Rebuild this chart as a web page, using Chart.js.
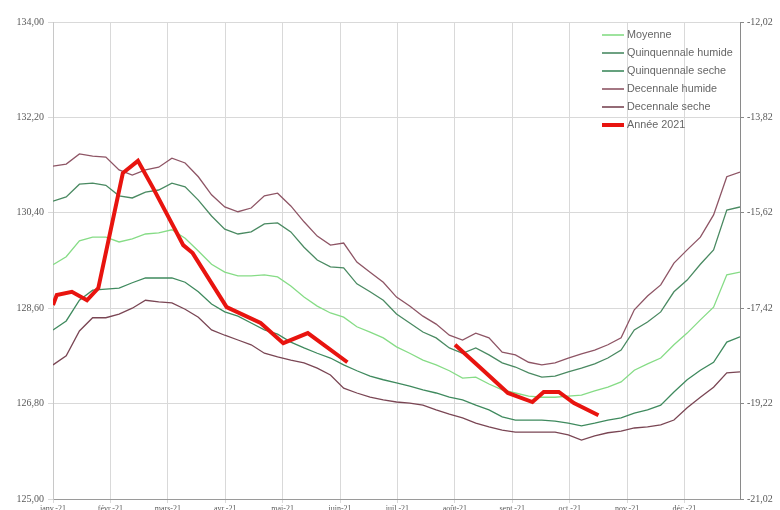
<!DOCTYPE html>
<html>
<head>
<meta charset="utf-8">
<script src="https://cdn.jsdelivr.net/npm/chart.js@4/dist/chart.umd.min.js"></script>
<style>
  html, body { margin: 0; padding: 0; background: #fff; overflow: hidden; }
  #wrap { width: 780px; height: 520px; }
</style>
</head>
<body>
<div id="wrap"><canvas id="myChart" width="780" height="520"></canvas></div>
<script>
// mois affichés sur l'axe du bas
const moisLabels = ['janv.-21', 'févr.-21', 'mars-21', 'avr.-21', 'mai-21', 'juin-21',
                    'juil.-21', 'août-21', 'sept.-21', 'oct.-21', 'nov.-21', 'déc.-21'];

// graduations des deux axes verticaux
const gaucheTicks = [125.00, 126.80, 128.60, 130.40, 132.20, 134.00];
const droiteTicks = [-21.02, -19.22, -17.42, -15.62, -13.82, -12.02];

// valeurs hebdomadaires (53 semaines)
const decennaleHumide = [131.28, 131.32, 131.51, 131.47, 131.45, 131.21, 131.11, 131.21, 131.26, 131.43,
  131.34, 131.08, 130.74, 130.51, 130.42, 130.49, 130.72, 130.77, 130.53, 130.23,
  129.96, 129.79, 129.83, 129.47, 129.28, 129.09, 128.81, 128.64, 128.45, 128.30,
  128.09, 128.00, 128.13, 128.04, 127.77, 127.72, 127.58, 127.53, 127.57, 127.66,
  127.74, 127.81, 127.91, 128.04, 128.57, 128.83, 129.04, 129.45, 129.70, 129.94,
  130.36, 131.08, 131.17];

const quinquennaleHumide = [130.62, 130.70, 130.94, 130.96, 130.92, 130.72, 130.68, 130.79, 130.83, 130.96,
  130.89, 130.64, 130.34, 130.09, 130.00, 130.04, 130.19, 130.21, 130.04, 129.75,
  129.51, 129.38, 129.36, 129.06, 128.91, 128.75, 128.49, 128.32, 128.15, 128.04,
  127.85, 127.75, 127.85, 127.72, 127.57, 127.49, 127.38, 127.30, 127.32, 127.40,
  127.47, 127.55, 127.66, 127.81, 128.19, 128.34, 128.53, 128.91, 129.13, 129.43,
  129.70, 130.45, 130.51];

const moyenne = [129.42, 129.57, 129.87, 129.94, 129.94, 129.85, 129.91, 130.00, 130.02, 130.08,
  129.92, 129.68, 129.43, 129.28, 129.21, 129.21, 129.23, 129.19, 129.02, 128.81,
  128.64, 128.51, 128.43, 128.25, 128.15, 128.04, 127.87, 127.75, 127.62, 127.53,
  127.42, 127.28, 127.30, 127.17, 127.06, 127.00, 126.94, 126.92, 126.92, 126.94,
  126.96, 127.04, 127.11, 127.21, 127.43, 127.55, 127.66, 127.91, 128.13, 128.38,
  128.62, 129.23, 129.28];

const quinquennaleSeche = [128.19, 128.36, 128.75, 128.94, 128.96, 128.98, 129.08, 129.17, 129.17, 129.17,
  129.09, 128.91, 128.68, 128.53, 128.45, 128.32, 128.19, 128.11, 127.96, 127.85,
  127.75, 127.66, 127.53, 127.42, 127.32, 127.25, 127.19, 127.13, 127.06, 127.00,
  126.92, 126.87, 126.77, 126.68, 126.55, 126.49, 126.49, 126.49, 126.47, 126.43,
  126.38, 126.43, 126.49, 126.53, 126.62, 126.68, 126.77, 127.02, 127.25, 127.43,
  127.58, 127.96, 128.06];

const decennaleSeche = [127.53, 127.70, 128.17, 128.42, 128.42, 128.49, 128.60, 128.75, 128.72, 128.70,
  128.58, 128.43, 128.19, 128.09, 128.00, 127.91, 127.75, 127.68, 127.62, 127.57,
  127.47, 127.34, 127.09, 127.00, 126.92, 126.87, 126.83, 126.81, 126.77, 126.68,
  126.60, 126.53, 126.43, 126.36, 126.30, 126.26, 126.26, 126.26, 126.26, 126.21,
  126.11, 126.19, 126.25, 126.28, 126.34, 126.36, 126.40, 126.49, 126.72, 126.92,
  127.11, 127.38, 127.40];

// année 2021 : jour de l'année / niveau (null = pas de mesure)
const anneeJours   = [0, 2, 10, 18, 24, 37, 45, 53, 64, 69, 74, 92, 110, 122, 135, 156,
                      185, 213, 226, 241, 254, 260, 268, 276, 289];
const anneeNiveaux = [128.66, 128.85, 128.91, 128.75, 128.98, 131.15, 131.38, 130.87, 130.13, 129.79,
                      129.64, 128.62, 128.32, 127.94, 128.13, 127.58,
                      null, 127.91, 127.49, 127.00, 126.83, 127.02, 127.02, 126.81, 126.58];

const hebdo = arr => arr.map((v, i) => ({ x: i * 7, y: v }));
const virgule = v => v.toFixed(2).replace('.', ',');

const series = [
  { label: 'Moyenne',             data: hebdo(moyenne),            borderColor: '#86dc86', borderWidth: 1.3 },
  { label: 'Quinquennale humide', data: hebdo(quinquennaleHumide), borderColor: '#4a8a62', borderWidth: 1.3 },
  { label: 'Quinquennale seche',  data: hebdo(quinquennaleSeche),  borderColor: '#3f8a5e', borderWidth: 1.3 },
  { label: 'Decennale humide',    data: hebdo(decennaleHumide),    borderColor: '#8e5565', borderWidth: 1.3 },
  { label: 'Decennale seche',     data: hebdo(decennaleSeche),     borderColor: '#7a4654', borderWidth: 1.3 },
  { label: 'Année 2021', data: anneeJours.map((d, i) => ({ x: d, y: anneeNiveaux[i] })),
    borderColor: '#e8140f', borderWidth: 4, order: -1 }
];

// légende dessinée dans la zone du graphique, en haut à droite
const legendeInterne = {
  id: 'legendeInterne',
  afterDraw(chart) {
    const ctx = chart.ctx, area = chart.chartArea;
    const x0 = area.right - 138, y0 = area.top + 13;
    ctx.save();
    ctx.font = '10.8px "Liberation Sans", Arial, sans-serif';
    ctx.textBaseline = 'middle';
    series.forEach((s, i) => {
      const y = y0 + i * 18;
      ctx.strokeStyle = s.borderColor;
      ctx.lineWidth = s.borderWidth > 2 ? 4 : 1.6;
      ctx.beginPath();
      ctx.moveTo(x0, y);
      ctx.lineTo(x0 + 22, y);
      ctx.stroke();
      ctx.fillStyle = '#666666';
      ctx.fillText(s.label, x0 + 25, y);
    });
    ctx.restore();
  }
};

let ctx = document.getElementById('myChart').getContext('2d');
let myChart = new Chart(ctx, {
    type: 'line',
    data: {
        datasets: series.map(s => Object.assign({
            pointRadius: 0,
            tension: 0,
            fill: false,
            spanGaps: false
        }, s))
    },
    options: {
        responsive: false,
        animation: false,
        layout: { padding: { top: 22, left: 0, right: 0, bottom: 0 } },
        plugins: {
            legend: { display: false },
            tooltip: { enabled: false }
        },
        scales: {
            x: {
                type: 'linear',
                min: 0,
                max: 364,
                afterBuildTicks: scale => {
                    scale.ticks = moisLabels.map((m, k) => ({ value: k * 365 / 12 }));
                },
                afterFit: scale => { scale.height = 21; },
                ticks: {
                    autoSkip: false,
                    maxRotation: 0,
                    padding: 1,
                    color: '#595959',
                    font: { family: '"Liberation Serif", serif', size: 8 },
                    callback: (v, i) => moisLabels[i]
                },
                grid: { color: '#d9d9d9', tickLength: 4 },
                border: { color: '#9a9a9a' }
            },
            y: {
                position: 'left',
                min: 125,
                max: 134,
                afterBuildTicks: scale => {
                    scale.ticks = gaucheTicks.map(v => ({ value: v }));
                },
                afterFit: scale => { scale.width = 53; },
                ticks: {
                    padding: 4,
                    color: '#595959',
                    font: { family: '"Liberation Serif", serif', size: 10 },
                    callback: v => virgule(v)
                },
                grid: { color: '#d9d9d9', tickLength: 5 },
                border: { color: '#c8c8c8' }
            },
            y2: {
                position: 'right',
                min: -21.02,
                max: -12.02,
                afterBuildTicks: scale => {
                    scale.ticks = droiteTicks.map(v => ({ value: v }));
                },
                afterFit: scale => { scale.width = 40; },
                ticks: {
                    padding: 3,
                    color: '#595959',
                    font: { family: '"Liberation Serif", serif', size: 10 },
                    callback: v => virgule(v)
                },
                grid: { drawOnChartArea: false, color: '#8a8a8a', tickLength: 4 },
                border: { color: '#8a8a8a' }
            }
        }
    },
    plugins: [legendeInterne]
});
</script>
</body>
</html>
